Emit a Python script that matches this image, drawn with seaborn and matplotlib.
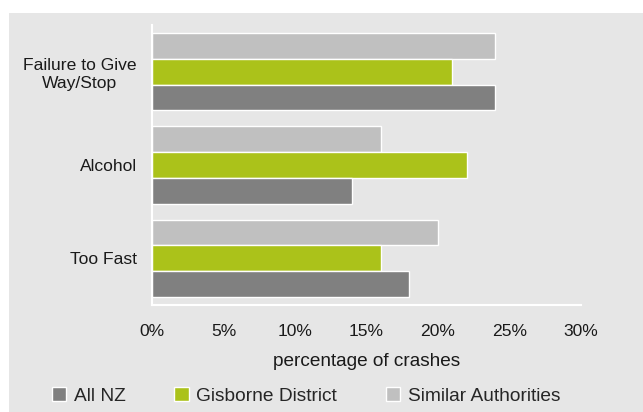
import pandas as pd
import matplotlib
matplotlib.use("Agg")
import matplotlib.pyplot as plt
import seaborn as sns
from matplotlib.patches import Rectangle, Patch
from matplotlib.ticker import FuncFormatter, FixedLocator

# Data (percentage of crashes)
categories = ["Failure to Give\nWay/Stop", "Alcohol", "Too Fast"]
all_nz = [24, 14, 18]
gisborne = [21, 22, 16]
similar = [24, 16, 20]

series_names = ["All NZ", "Gisborne District", "Similar Authorities"]
colors = {"All NZ": "#808080", "Gisborne District": "#ABC21A", "Similar Authorities": "#C0C0C0"}

df = pd.DataFrame({
    "Cause": categories * 3,
    "Value": all_nz + gisborne + similar,
    "Series": [s for s in series_names for _ in categories],
})

sns.set_style("white")
plt.rcParams["font.family"] = ["Liberation Sans", "DejaVu Sans"]

fig = plt.figure(figsize=(6.43, 4.12), dpi=100)
fig.patch.set_facecolor("white")
# gray chart area background
fig.patches.append(Rectangle((9 / 643, 0), 1 - 9 / 643, 1 - 13 / 412,
                             transform=fig.transFigure, facecolor="#E6E6E6",
                             edgecolor="none", zorder=-10))

ax = fig.add_axes([152 / 643, 1 - 305 / 412, (581 - 152) / 643, (305 - 25) / 412])
ax.set_facecolor("none")
ax.set_zorder(5)

# top-to-bottom order inside each group: Similar, Gisborne, All NZ
sns.barplot(data=df, y="Cause", x="Value", hue="Series", order=categories,
            hue_order=["Similar Authorities", "Gisborne District", "All NZ"],
            palette=colors, saturation=1, orient="h", width=0.83, gap=0,
            edgecolor="white", linewidth=1, ax=ax, legend=False)

ax.set_xlim(0, 30)
ax.set_ylim(2.5, -0.5)
ax.xaxis.set_major_locator(FixedLocator([0, 5, 10, 15, 20, 25, 30]))
ax.xaxis.set_major_formatter(FuncFormatter(lambda v, p: f"{v:.0f}%"))
ax.set_xlabel("percentage of crashes", fontsize=13.7, color="#1a1a1a", labelpad=10)
ax.set_ylabel("")

ax.yaxis.set_minor_locator(FixedLocator([-0.5, 0.5, 1.5, 2.5]))
ax.tick_params(axis="y", which="major", length=0, pad=11, labelsize=12.6, labelcolor="#1a1a1a")
ax.tick_params(axis="y", which="minor", length=5, width=1.2, color="white", direction="out")
ax.tick_params(axis="x", which="major", length=5, width=1.2, color="white", direction="out",
               labelsize=12.6, labelcolor="#1a1a1a", pad=9)
for lbl in ax.get_yticklabels():
    lbl.set_multialignment("center")

for side in ["top", "right"]:
    ax.spines[side].set_visible(False)
for side in ["left", "bottom"]:
    ax.spines[side].set_color("white")
    ax.spines[side].set_linewidth(1.5)
ax.spines["bottom"].set_bounds(0, 30)
ax.grid(False)

handles = [Patch(facecolor=colors[s], edgecolor="white", linewidth=1) for s in series_names]
fig.legend(handles, series_names, loc="center", bbox_to_anchor=(0.476, 0.039), ncol=3,
           frameon=False, fontsize=13.8, handlelength=0.75, handleheight=0.75,
           handletextpad=0.4, columnspacing=2.55)

fig.savefig("out.png", dpi=100, facecolor="white")
